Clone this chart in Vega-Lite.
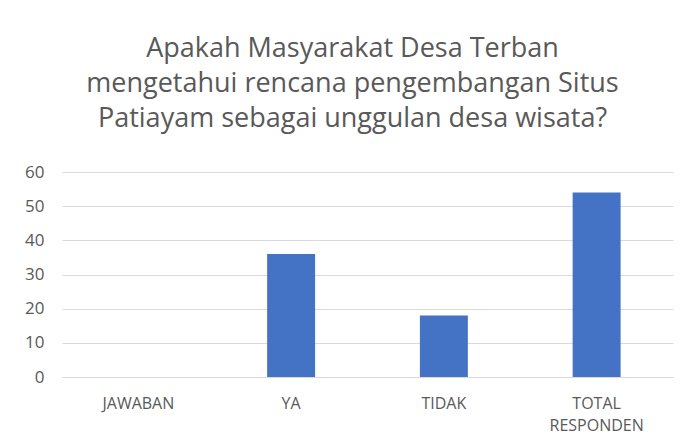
{
  "$schema": "https://vega.github.io/schema/vega-lite/v6.json",
  "autosize": "none",
  "width": 611,
  "height": 205,
  "padding": {"left": 62, "top": 172, "right": 12, "bottom": 68},
  "background": "white",
  "title": {
    "text": ["Apakah Masyarakat Desa Terban", "mengetahui rencana pengembangan Situs", "Patiayam sebagai unggulan desa wisata?"],
    "font": "Open Sans",
    "fontSize": 27,
    "fontWeight": "normal",
    "color": "#595959",
    "lineHeight": 35,
    "anchor": "middle",
    "frame": "group",
    "dx": -15,
    "offset": 30
  },
  "data": {
    "values": [
      {"kategori": "JAWABAN", "jumlah": 0},
      {"kategori": "YA", "jumlah": 36},
      {"kategori": "TIDAK", "jumlah": 18},
      {"kategori": "TOTAL RESPONDEN", "jumlah": 54}
    ]
  },
  "mark": {"type": "bar", "color": "#4472C4"},
  "encoding": {
    "x": {
      "field": "kategori",
      "type": "nominal",
      "sort": null,
      "scale": {"paddingInner": 0.686, "paddingOuter": 0.343},
      "axis": {
        "title": null,
        "labelAngle": 0,
        "labelExpr": "split(datum.label, ' ')",
        "labelFont": "Open Sans",
        "labelFontSize": 16,
        "labelColor": "#595959",
        "labelLineHeight": 22,
        "labelPadding": 18,
        "ticks": false,
        "domain": true,
        "domainColor": "#d9d9d9",
        "grid": false
      }
    },
    "y": {
      "field": "jumlah",
      "type": "quantitative",
      "scale": {"domain": [0, 60]},
      "axis": {
        "title": null,
        "values": [0, 10, 20, 30, 40, 50, 60],
        "labelFont": "Open Sans",
        "labelFontSize": 17,
        "labelColor": "#595959",
        "labelPadding": 18,
        "ticks": false,
        "domain": false,
        "grid": true,
        "gridColor": "#d9d9d9",
        "gridWidth": 1
      }
    }
  },
  "config": {"view": {"stroke": null}}
}
